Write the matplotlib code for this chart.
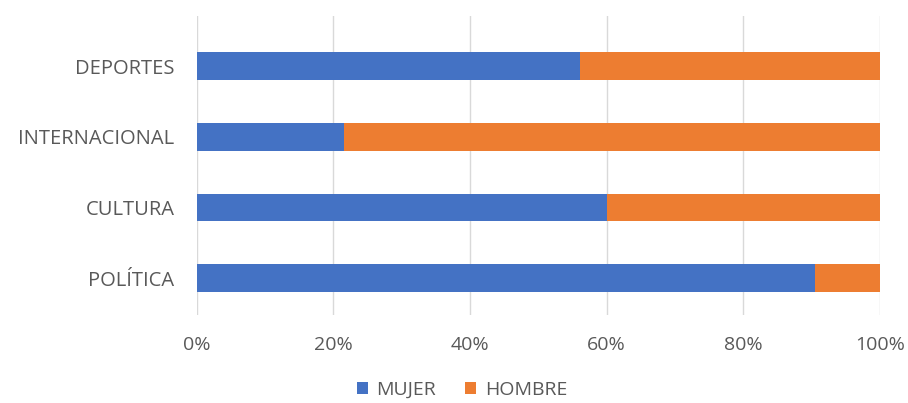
import matplotlib
matplotlib.use("Agg")
import matplotlib.pyplot as plt
import numpy as np
from matplotlib.ticker import PercentFormatter

categories = ["POLÍTICA", "CULTURA", "INTERNACIONAL", "DEPORTES"]
mujer = [90.5, 60.0, 21.5, 56.1]
hombre = [100 - v for v in mujer]
xticks = [0, 20, 40, 60, 80, 100]

plt.rcParams['font.family'] = ['Open Sans', 'DejaVu Sans']

fig = plt.figure(figsize=(9.08, 4.03), dpi=100)
ax = fig.add_axes([0.2166, 0.2184, 0.9692 - 0.2166, 0.9603 - 0.2184])

y = np.arange(len(categories))
h = 0.39
ax.barh(y, mujer, height=h, color="#4472C4", label="MUJER", zorder=2)
ax.barh(y, hombre, left=mujer, height=h, color="#ED7D31", label="HOMBRE", zorder=2)

ax.set_xlim(0, 100)
ax.set_ylim(-0.52, 3.71)
ax.set_xticks(xticks)
ax.xaxis.set_major_formatter(PercentFormatter(decimals=0))
ax.set_yticks(y)
ax.set_yticklabels(categories)
ax.grid(axis="x", color="#D9D9D9", linewidth=1, zorder=0)
for s in ax.spines.values():
    s.set_visible(False)
ax.tick_params(axis="both", length=0, colors="#595959")
ax.tick_params(axis="y", pad=16, labelsize=14.5)
ax.tick_params(axis="x", pad=15, labelsize=14)

leg = fig.legend(loc="center", bbox_to_anchor=(0.509, 1 - 390 / 403), ncol=2, frameon=False,
                 fontsize=14, handlelength=0.55, handleheight=0.55, handletextpad=0.45,
                 columnspacing=1.5, labelcolor="#595959", borderpad=0.2)

fig.savefig("out.png", dpi=100)
